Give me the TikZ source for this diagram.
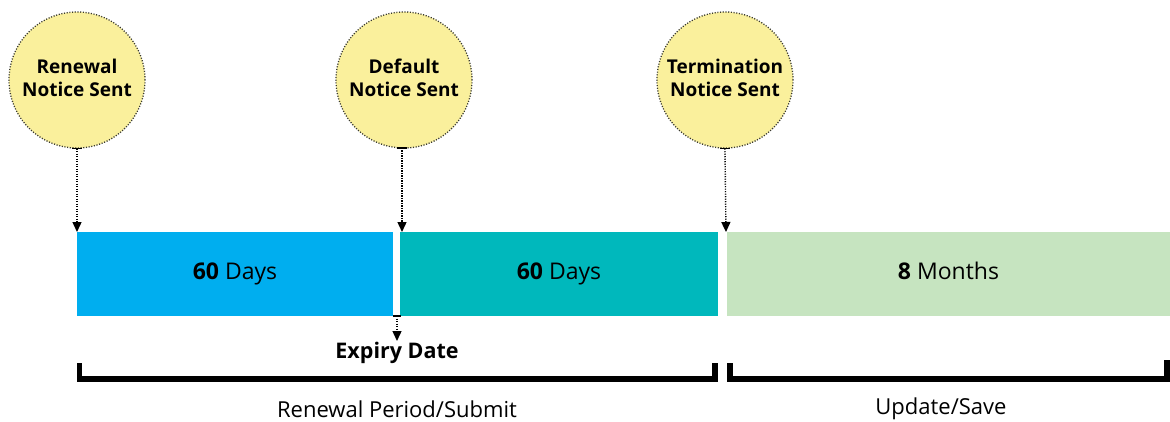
\documentclass[tikz,border=0pt]{standalone}
\usepackage{fontspec}
\setmainfont{Open Sans}
\usetikzlibrary{arrows.meta}
\definecolor{circfill}{HTML}{FAF09C}
\definecolor{circline}{HTML}{3A3A30}
\definecolor{barblue}{HTML}{00AEEF}
\definecolor{barteal}{HTML}{00B8BC}
\definecolor{bargreen}{HTML}{C6E4C0}
\tikzset{
  notice/.style={circle, minimum size=136pt, inner sep=0pt, fill=circfill, draw=circline,
    line width=1.3pt, dash pattern=on 1.1pt off 1.6pt, align=center,
    font=\fontsize{19}{23.5}\selectfont\bfseries},
  period/.style={rectangle, minimum height=84pt, inner sep=0pt, text height=1em, text depth=0em,
    font=\fontsize{23}{26}\selectfont},
  pointer/.style={line width=1.4pt, dash pattern=on 1.1pt off 1.4pt,
    -{Triangle[length=10pt,width=9pt]}},
  bracketline/.style={line width=5.5pt, line join=miter, line cap=butt},
  caption/.style={font=\fontsize{22}{26}\selectfont, inner sep=1pt},
}
\begin{document}
\begin{tikzpicture}[x=1pt,y=1pt]
\useasboundingbox (0,0) rectangle (1170,421);
% circles
\node[notice] (c1) at (77,341) {Renewal\\Notice Sent\\[-19pt]\mbox{}};
\node[notice] (c2) at (404,341) {Default\\Notice Sent\\[-19pt]\mbox{}};
\node[notice] (c3) at (725,341) {Termination\\Notice Sent\\[-19pt]\mbox{}};
% bars
\node[period, fill=barblue, minimum width=316pt] (b1) at (235,147) {\textbf{60} Days};
\node[period, fill=barteal, minimum width=318pt] (b2) at (559,147) {\textbf{60} Days};
\node[period, fill=bargreen, minimum width=443pt] (b3) at (948.5,147) {\textbf{8} Months};
% arrow targets
\coordinate (t1) at (77,189);
\coordinate (s2) at (402,273);
\coordinate (t2) at (402,189);
\coordinate (t3) at (726,189);
\coordinate (e1) at (397,105);
\coordinate (e2) at (397,80);
% short ticks at arrow starts
\draw[line width=1.6pt] ([xshift=-5pt]c1.south) -- ([xshift=5pt]c1.south);
\draw[line width=1.6pt] (397,273) -- (407,273);
\draw[line width=1.6pt] ([xshift=-5pt]c3.south) -- ([xshift=5pt]c3.south);
\draw[line width=1.6pt] (393,105) -- (401,105);
% pointers
\draw[pointer] (c1.south) -- (t1);
\draw[pointer] (s2) -- (t2);
\draw[pointer] (c3.south) -- (t3);
\draw[pointer] (e1) -- (e2);
\node[font=\fontsize{21.5}{24}\selectfont\bfseries] (exp) at (397,68) {Expiry Date};
% brackets
\coordinate (l1) at (79.5,58);
\coordinate (l2) at (79.5,42);
\coordinate (l3) at (715,42);
\coordinate (l4) at (715,58);
\draw[bracketline] (l1) -- (l2) -- (l3) -- (l4);
\coordinate (r1) at (730,58);
\coordinate (r2) at (730,42);
\coordinate (r3) at (1167,42);
\coordinate (r4) at (1167,61);
\draw[bracketline] (r1) -- (r2) -- (r3) -- (r4);
% captions
\node[caption] (cap1) at (397,12) {Renewal Period/Submit};
\node[caption] (cap2) at (941,12) {Update/Save};
\end{tikzpicture}
\end{document}
